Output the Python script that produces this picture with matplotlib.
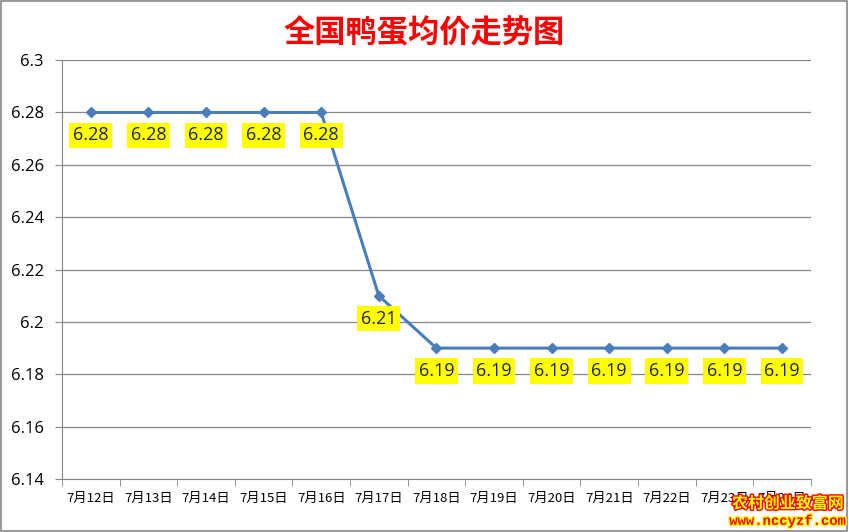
import matplotlib.pyplot as plt
import matplotlib.patheffects as pe
from matplotlib.ticker import FixedLocator, NullFormatter

plt.rcParams['font.family'] = ['Noto Sans CJK SC', 'DejaVu Sans']

dates = ["7月12日", "7月13日", "7月14日", "7月15日", "7月16日", "7月17日", "7月18日",
         "7月19日", "7月20日", "7月21日", "7月22日", "7月23日", "7月24日"]
prices = [6.28, 6.28, 6.28, 6.28, 6.28, 6.21, 6.19, 6.19, 6.19, 6.19, 6.19, 6.19, 6.19]
yticks = [6.14, 6.16, 6.18, 6.2, 6.22, 6.24, 6.26, 6.28, 6.3]
ytick_labels = ["6.14", "6.16", "6.18", "6.2", "6.22", "6.24", "6.26", "6.28", "6.3"]

fig = plt.figure(figsize=(8.49, 5.32), dpi=100)
ax = fig.add_axes([0.073, 0.0996, 0.882, 0.7874])

x = list(range(len(dates)))
ax.plot(x, prices, color="#4a7ebb", lw=2.2, marker="D", ms=5, zorder=3)

for xi, p in zip(x, prices):
    ax.annotate(f"{p:.2f}", (xi, p), xytext=(0, -16.5), textcoords="offset points",
                ha="center", va="center", fontsize=13, color="#1c2540",
                family=["Open Sans", "DejaVu Sans"],
                bbox=dict(boxstyle="square,pad=0.2", fc="#ffff00", ec="none"), zorder=4)

ax.set_xlim(-0.5, len(dates) - 0.5)
ax.set_ylim(6.14, 6.3)
ax.set_yticks(yticks)
ax.set_yticklabels(ytick_labels, fontsize=12, family=["Open Sans", "DejaVu Sans"])
ax.set_xticks(x)
ax.set_xticklabels(dates, fontsize=9.5)
ax.tick_params(axis="x", length=0, pad=9)
ax.xaxis.set_minor_locator(FixedLocator([i - 0.5 for i in range(len(dates) + 1)]))
ax.xaxis.set_minor_formatter(NullFormatter())
ax.tick_params(axis="x", which="minor", length=5, color="#868686")
ax.tick_params(axis="y", length=5, color="#868686", pad=8)

ax.grid(axis="y", color="#868686", lw=0.9)
ax.set_axisbelow(True)
for s in ["top", "right"]:
    ax.spines[s].set_visible(False)
for s in ["left", "bottom"]:
    ax.spines[s].set_color("#868686")

fig.text(0.5, 0.937, "全国鸭蛋均价走势图", ha="center", va="center",
         fontsize=22.5, fontweight="bold", color="#ff0000")

# frame around the chart
fig.patches.append(plt.Rectangle((0.001, 0.002), 0.997, 0.996, transform=fig.transFigure,
                                 fill=False, ec="#868686", lw=1.2))

# watermark
fig.text(0.928, 0.054, "农村创业致富网", ha="center", va="center", fontsize=11.5,
         fontweight="bold", color="#ffff00",
         path_effects=[pe.withStroke(linewidth=2, foreground="#ff0000")])
fig.text(0.928, 0.021, "www.nccyzf.com", ha="center", va="center", fontsize=10,
         fontweight="bold", color="#ff0000", family=["Liberation Mono", "DejaVu Sans"],
         path_effects=[pe.withStroke(linewidth=2, foreground="#ffff00")])

fig.savefig("out.png", dpi=100)
